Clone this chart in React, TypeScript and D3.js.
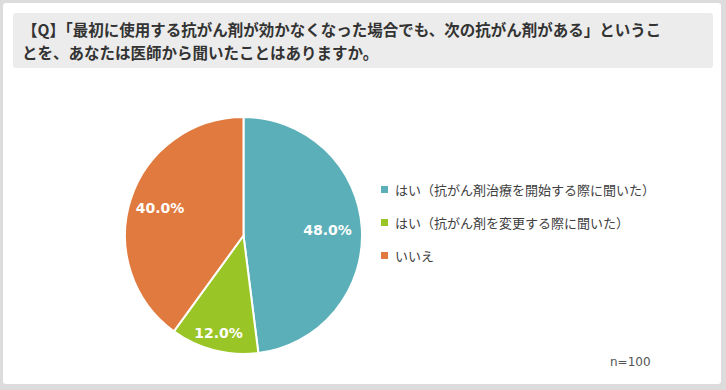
import { useEffect, useRef } from 'react';
import * as d3 from 'd3';

const titleLines = [
  '【Q】「最初に使用する抗がん剤が効かなくなった場合でも、次の抗がん剤がある」というこ',
  'とを、あなたは医師から聞いたことはありますか。',
];
const categories = [
  'はい（抗がん剤治療を開始する際に聞いた）',
  'はい（抗がん剤を変更する際に聞いた）',
  'いいえ',
];
const values = [48.0, 12.0, 40.0];
const colors = ['#5aafb8', '#9ac526', '#e07a3e'];
const sampleNote = 'n=100';

// label distance from center as fraction of radius
const labelFrac = [0.71, 0.85, 0.74];

export default function App() {
  const ref = useRef<SVGSVGElement>(null);

  useEffect(() => {
    document.body.style.margin = '0';
    if (!ref.current) return;
    const width = 726;
    const height = 390;
    const svg = d3.select(ref.current);
    svg.selectAll('*').remove();

    svg.append('rect').attr('width', width).attr('height', height).attr('fill', '#dcdcdc');
    svg
      .append('rect')
      .attr('x', 3)
      .attr('y', 3)
      .attr('width', 718)
      .attr('height', 381)
      .attr('rx', 3)
      .attr('fill', '#fff');

    svg
      .append('rect')
      .attr('x', 13)
      .attr('y', 13)
      .attr('width', 700)
      .attr('height', 55)
      .attr('rx', 3)
      .attr('fill', '#ececec');

    titleLines.forEach((t, i) => {
      svg
        .append('text')
        .attr('x', 22)
        .attr('y', 36 + i * 22.5)
        .attr('font-family', '"Noto Sans CJK JP", sans-serif')
        .attr('font-size', 15.5)
        .attr('font-weight', 'bold')
        .attr('fill', '#333')
        .text(t);
    });

    const cx = 243.5;
    const cy = 235.5;
    const radius = 118.5;
    const g = svg.append('g').attr('transform', `translate(${cx},${cy})`);

    const pie = d3.pie<number>().sort(null).value((d) => d);
    const arcs = pie(values);
    const arc = d3.arc<d3.PieArcDatum<number>>().innerRadius(0).outerRadius(radius);

    g.selectAll('path.slice')
      .data(arcs)
      .join('path')
      .attr('class', 'slice')
      .attr('d', arc)
      .attr('fill', (_, i) => colors[i])
      .attr('stroke', '#fff')
      .attr('stroke-width', 2);

    g.selectAll('text.pct')
      .data(arcs)
      .join('text')
      .attr('class', 'pct')
      .attr('transform', (d, i) => {
        const a = (d.startAngle + d.endAngle) / 2;
        const r = radius * labelFrac[i];
        return `translate(${Math.sin(a) * r},${-Math.cos(a) * r})`;
      })
      .attr('text-anchor', 'middle')
      .attr('dy', '0.36em')
      .attr('font-family', '"DejaVu Sans", Verdana, sans-serif')
      .attr('font-size', 14)
      .attr('font-weight', 'bold')
      .attr('fill', '#fff')
      .text((d) => `${d.data.toFixed(1)}%`);

    const legendY = d3.scalePoint<string>().domain(categories).range([190, 256]);
    const legend = svg
      .append('g')
      .selectAll('g')
      .data(categories)
      .join('g')
      .attr('transform', (d) => `translate(381,${legendY(d)})`);
    legend
      .append('rect')
      .attr('x', 0)
      .attr('y', -4)
      .attr('width', 7)
      .attr('height', 7)
      .attr('fill', (_, i) => colors[i]);
    legend
      .append('text')
      .attr('x', 14)
      .attr('dy', '0.35em')
      .attr('font-family', '"Noto Sans CJK JP", sans-serif')
      .attr('font-size', 13)
      .attr('fill', '#404040')
      .text((d) => d);

    svg
      .append('text')
      .attr('x', 610)
      .attr('y', 366)
      .attr('font-family', '"DejaVu Sans", Verdana, sans-serif')
      .attr('font-size', 12)
      .attr('fill', '#555')
      .text(sampleNote);
  }, []);

  return <svg ref={ref} width={726} height={390} style={{ display: 'block' }} />;
}
